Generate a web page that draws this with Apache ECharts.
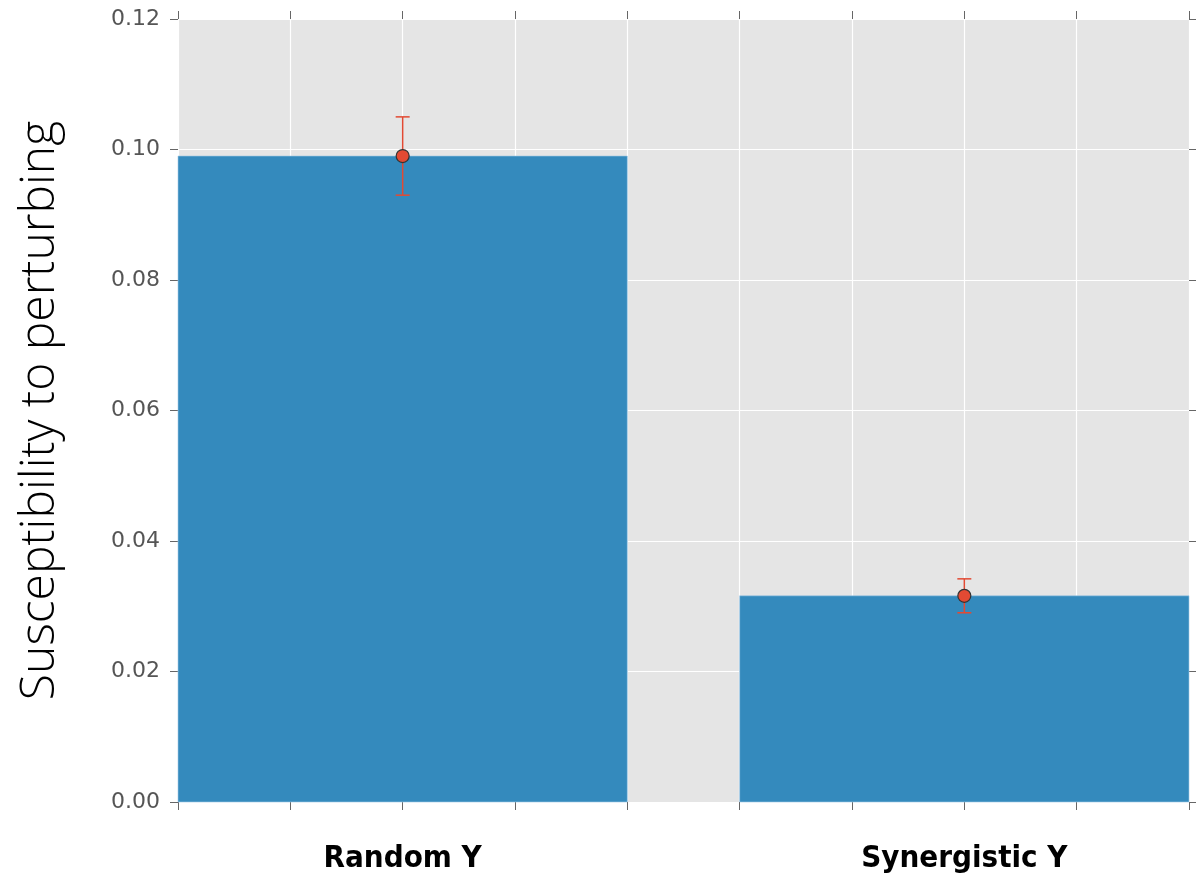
<!DOCTYPE html>
<html>
<head>
<meta charset="utf-8">
<script src="https://cdn.jsdelivr.net/npm/echarts@6/dist/echarts.min.js"></script>
<style>html,body{margin:0;padding:0;background:#fff;}#c{width:1196px;height:881px;}</style>
</head>
<body>
<div id="c"></div>
<script>
const categories = ['Random Y', 'Synergistic Y'];
const values = [0.0990, 0.0316];
const errors = [0.0060, 0.0026];
const yTicks = [0, 0.02, 0.04, 0.06, 0.08, 0.10, 0.12];
const yLabel = 'Susceptibility to perturbing';

const BAR_HALF = 0.4;
const chart = echarts.init(document.getElementById('c'), null, {renderer: 'canvas'});

const tickStyle = {show: true, inside: false, length: 8, lineStyle: {color: '#666', width: 1}};
const gridLine = {show: true, lineStyle: {color: '#ffffff', width: 1.2}};
const noLine = {show: false, onZero: false};

const option = {
  animation: false,
  grid: {left: 178, top: 19, right: 7, bottom: 79, show: true, backgroundColor: '#E5E5E5', borderWidth: 0},
  xAxis: [{
    type: 'value', min: -0.4, max: 1.4, interval: 0.2, position: 'bottom',
    axisLine: noLine, axisTick: tickStyle, splitLine: gridLine,
    axisLabel: {
      show: true, margin: 41, interval: 0,
      fontFamily: '"DejaVu Sans Condensed", "DejaVu Sans", sans-serif', fontWeight: 'bold', fontSize: 31, color: '#000',
      formatter: function (v) {
        const i = Math.round(v);
        return (Math.abs(v - i) < 1e-6 && categories[i] !== undefined) ? categories[i] : '';
      }
    }
  }, {
    type: 'value', min: -0.4, max: 1.4, interval: 0.2, position: 'top',
    axisLine: noLine, axisTick: tickStyle, splitLine: {show: false}, axisLabel: {show: false}
  }],
  yAxis: [{
    type: 'value', min: yTicks[0], max: yTicks[yTicks.length - 1], interval: 0.02, position: 'left',
    axisLine: noLine, axisTick: tickStyle, splitLine: gridLine,
    axisLabel: {margin: 18, fontFamily: '"DejaVu Sans", sans-serif', fontSize: 22, color: '#555',
      formatter: v => v.toFixed(2)},
    name: yLabel, nameLocation: 'middle', nameRotate: 90, nameGap: 114,
    nameTextStyle: {fontFamily: '"Open Sans", sans-serif', fontWeight: 300, fontSize: 48, color: '#000'}
  }, {
    type: 'value', min: yTicks[0], max: yTicks[yTicks.length - 1], interval: 0.02, position: 'right',
    axisLine: noLine, axisTick: tickStyle, splitLine: {show: false}, axisLabel: {show: false}
  }],
  series: [{
    type: 'custom',
    xAxisIndex: 0, yAxisIndex: 0,
    data: values.map((v, i) => [i, v]),
    renderItem: function (params, api) {
      const x = api.value(0), y = api.value(1);
      const p1 = api.coord([x - BAR_HALF, y]);
      const p2 = api.coord([x + BAR_HALF, 0]);
      return {type: 'rect', shape: {x: p1[0], y: p1[1], width: p2[0] - p1[0], height: p2[1] - p1[1]},
        style: {fill: '#348ABD', stroke: 'rgba(160,200,230,0.6)', lineWidth: 1}};
    },
    z: 2
  }, {
    type: 'custom',
    xAxisIndex: 0, yAxisIndex: 0,
    data: values.map((v, i) => [i, v - errors[i], v + errors[i]]),
    renderItem: function (params, api) {
      const x = api.value(0);
      const lo = api.coord([x, api.value(1)]);
      const hi = api.coord([x, api.value(2)]);
      const cap = 7;
      const st = {stroke: '#E24A33', lineWidth: 1.5};
      return {type: 'group', children: [
        {type: 'line', shape: {x1: lo[0], y1: lo[1], x2: hi[0], y2: hi[1]}, style: st},
        {type: 'line', shape: {x1: lo[0] - cap, y1: lo[1], x2: lo[0] + cap, y2: lo[1]}, style: st},
        {type: 'line', shape: {x1: hi[0] - cap, y1: hi[1], x2: hi[0] + cap, y2: hi[1]}, style: st}
      ]};
    },
    z: 3
  }, {
    type: 'scatter',
    xAxisIndex: 0, yAxisIndex: 0,
    data: values.map((v, i) => [i, v]),
    symbol: 'circle', symbolSize: 13,
    itemStyle: {color: '#E24A33', borderColor: '#333', borderWidth: 1.2, opacity: 1},
    z: 4
  }]
};
chart.setOption(option);
</script>
</body>
</html>
